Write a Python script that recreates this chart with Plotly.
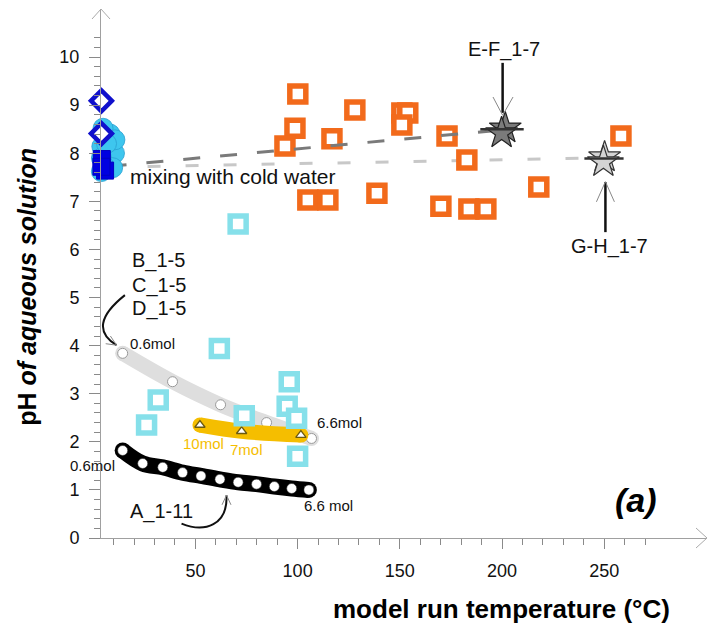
import plotly.graph_objects as go

FONT = "Liberation Sans, Arial, sans-serif"

# ---------------- data ----------------
orange_x = [100.1, 98.7, 93.8, 116.8, 128.0, 151.0, 153.9, 151.0, 173.1, 182.8,
            138.8, 170.1, 183.8, 192.1, 218.0, 258.2, 105.0, 114.8]
orange_y = [9.23, 8.52, 8.15, 8.30, 8.90, 8.84, 8.84, 8.59, 8.36, 7.86,
            7.17, 6.90, 6.84, 6.84, 7.30, 8.36, 7.03, 7.03]

cyan_sq_x = [70.9, 61.7, 95.9, 31.8, 26.1, 73.9, 94.9, 99.5, 100.0]
cyan_sq_y = [6.53, 3.94, 3.25, 2.87, 2.35, 2.54, 2.74, 2.49, 1.70]

cluster_x = [4.0, 8.2, 4.2, 10.4, 4.0, 8.2, 10.6, 4.8, 6.5, 9.5, 5.0]
cluster_y = [7.62, 7.80, 8.14, 8.00, 7.90, 8.40, 8.28, 8.52, 8.20, 7.70, 7.75]

blue_dia_x = [4.0, 4.0]
blue_dia_y = [9.09, 8.41]

blue_fill_x = [4.2, 5.8, 4.0]
blue_fill_y = [7.88, 7.64, 7.72]

ef_x = [201.6, 199.8]
ef_y = [8.52, 8.42]
ef_bar_x = [200.0]
ef_bar_y = [8.50]

gh_x = [250.2, 249.6]
gh_y = [7.92, 7.82]
gh_bar_x = [249.9]
gh_bar_y = [7.89]

mix_dark_x = [8.0, 196.0]
mix_dark_y = [7.73, 8.47]
mix_light_x = [8.0, 244.0]
mix_light_y = [7.71, 7.90]

bd_x = [14.4, 38.8, 62.3, 84.8, 106.8]
bd_y = [3.84, 3.25, 2.77, 2.40, 2.07]

a_x = [14.4, 24.2, 34.0, 43.7, 52.7, 62.0, 70.9, 79.9, 88.6, 97.1, 105.5]
a_y = [1.82, 1.55, 1.47, 1.36, 1.29, 1.22, 1.16, 1.12, 1.07, 1.03, 1.00]

yel_x = [52.2, 72.6, 101.6]
yel_y = [2.35, 2.22, 2.14]

x_ticks = [50, 100, 150, 200, 250]
x_minor = [v for v in range(10, 280, 10) if v % 50 != 0]
y_ticks = list(range(0, 11))
y_minor = [round(i * 0.2, 1) for i in range(1, 53) if i % 5 != 0]

ORANGE = "#F26A1B"
CYAN_SQ = "#86E0EA"
CYAN_C = "#3EC6EE"
BLUE = "#1010CC"
GOLD = "#F5BE00"

fig = go.Figure()


def band(x, y, color, width):
    fig.add_trace(go.Scatter(x=x, y=y, mode="lines",
                             line=dict(color=color, width=width, shape="spline", smoothing=1),
                             hoverinfo="skip", cliponaxis=False))
    fig.add_trace(go.Scatter(x=[x[0], x[-1]], y=[y[0], y[-1]], mode="markers",
                             marker=dict(symbol="circle", size=width, color=color, line=dict(width=0)),
                             hoverinfo="skip", cliponaxis=False))


# gray model band (B-D)
band(bd_x, bd_y, "#DEDEDE", 15)
fig.add_trace(go.Scatter(x=bd_x, y=bd_y, mode="markers",
                         marker=dict(symbol="circle", size=10, color="white",
                                     line=dict(color="#9A9A9A", width=1)), cliponaxis=False))
# yellow band
band(yel_x, yel_y, GOLD, 15)
fig.add_trace(go.Scatter(x=yel_x, y=yel_y, mode="markers",
                         marker=dict(symbol="triangle-up", size=9, color="white",
                                     line=dict(color="#6B5A10", width=1.3)), cliponaxis=False))
# black band (A)
band(a_x, a_y, "#000000", 16)
fig.add_trace(go.Scatter(x=a_x, y=a_y, mode="markers",
                         marker=dict(symbol="circle", size=10, color="white",
                                     line=dict(color="#222", width=0.5)), cliponaxis=False))

# light dashed mixing line (under squares)
fig.add_trace(go.Scatter(x=mix_light_x, y=mix_light_y, mode="lines",
                         line=dict(color="#C8C8C8", width=3, dash="13px,25px"), cliponaxis=False))

# cyan squares
fig.add_trace(go.Scatter(x=cyan_sq_x, y=cyan_sq_y, mode="markers",
                         marker=dict(symbol="square", size=16, color="white",
                                     line=dict(color=CYAN_SQ, width=5.5)), cliponaxis=False))
# orange squares
fig.add_trace(go.Scatter(x=orange_x, y=orange_y, mode="markers",
                         marker=dict(symbol="square", size=16, color="white",
                                     line=dict(color=ORANGE, width=5.5)), cliponaxis=False))

# dark dashed mixing line (over squares)
fig.add_trace(go.Scatter(x=mix_dark_x, y=mix_dark_y, mode="lines",
                         line=dict(color="#7A7A7A", width=3, dash="17px,20px"), cliponaxis=False))

# stars
fig.add_trace(go.Scatter(x=ef_x, y=ef_y, mode="markers",
                         marker=dict(symbol="star", size=24, color="#7B7B7B",
                                     line=dict(color="#222", width=1.2)), cliponaxis=False))
fig.add_trace(go.Scatter(x=ef_bar_x, y=ef_bar_y, mode="markers",
                         marker=dict(symbol="line-ew", size=31, line=dict(color="#333", width=2.5)),
                         cliponaxis=False))
fig.add_trace(go.Scatter(x=gh_x, y=gh_y, mode="markers",
                         marker=dict(symbol="star", size=24, color="#D4D4D4",
                                     line=dict(color="#333", width=1.2)), cliponaxis=False))
fig.add_trace(go.Scatter(x=gh_bar_x, y=gh_bar_y, mode="markers",
                         marker=dict(symbol="line-ew", size=28, line=dict(color="#333", width=2.5)),
                         cliponaxis=False))

# cluster at left
fig.add_trace(go.Scatter(x=cluster_x, y=cluster_y, mode="markers",
                         marker=dict(symbol="circle", size=20, color=CYAN_C,
                                     line=dict(color="#2A9FD0", width=0.8)), cliponaxis=False))
fig.add_trace(go.Scatter(x=blue_fill_x, y=blue_fill_y, mode="markers",
                         marker=dict(symbol="square", size=17, color="#0000E0",
                                     line=dict(color="#0000C0", width=1)), cliponaxis=False))
fig.add_trace(go.Scatter(x=blue_dia_x, y=blue_dia_y, mode="markers",
                         marker=dict(symbol="diamond", size=16, color="white",
                                     line=dict(color=BLUE, width=4.5)), cliponaxis=False))

# ---------------- annotations ----------------
def txt(text, x, y, size, color="#111", xanchor="left", **kw):
    fig.add_annotation(x=x, y=y, xref="x", yref="y", text=text, showarrow=False,
                       xanchor=xanchor, yanchor="middle",
                       font=dict(family=FONT, size=size, color=color), **kw)


txt("mixing with cold water", 17.1, 7.51, 21)
txt("B_1-5", 17.9, 5.78, 20)
txt("C_1-5", 17.9, 5.26, 20)
txt("D_1-5", 17.9, 4.78, 20)
txt("0.6mol", 17.0, 4.05, 15)
txt("6.6mol", 108.5, 2.41, 15)
txt("0.6mol", 11.4, 1.50, 15, xanchor="right")
txt("6.6 mol", 102.0, 0.67, 15)
txt("10mol", 42.8, 1.97, 15, color=GOLD)
txt("7mol", 66.0, 1.84, 15, color=GOLD)
txt("A_1-11", 17.1, 0.55, 20)
txt("E-F_1-7", 201.1, 10.15, 20, xanchor="center")
txt("G-H_1-7", 252.8, 6.06, 20, xanchor="center")
txt("<b><i>(a)</i></b>", 265.4, 0.79, 34, color="#000", xanchor="center")

# axis titles
fig.add_annotation(x=0.661, y=-0.134, xref="paper", yref="paper",
                   text="<b>model run temperature (°C)</b>", showarrow=False,
                   xanchor="center", yanchor="middle",
                   font=dict(family=FONT, size=26, color="#000"))
fig.add_annotation(x=-0.122, y=0.475, xref="paper", yref="paper",
                   text="<b>pH <i>of aqueous solution</i></b>", showarrow=False,
                   textangle=-90, xanchor="center", yanchor="middle",
                   font=dict(family=FONT, size=25, color="#000"))

# ---------------- shapes (pointer arrows, axis arrows) ----------------
shapes = []
# E-F pointer
shapes.append(dict(type="line", xref="x", yref="y", x0=200.3, y0=9.88, x1=200.3, y1=8.84,
                   line=dict(color="#111", width=2.5)))
shapes.append(dict(type="path", xref="x", yref="y",
                   path="M 195.6,9.17 L 200.3,8.79 L 205.4,9.17",
                   line=dict(color="#888", width=1)))
# G-H pointer
shapes.append(dict(type="line", xref="x", yref="y", x0=250.6, y0=6.36, x1=250.6, y1=7.40,
                   line=dict(color="#111", width=2.5)))
shapes.append(dict(type="path", xref="x", yref="y",
                   path="M 246.2,6.99 L 250.6,7.41 L 255.0,6.99",
                   line=dict(color="#888", width=1)))
# B-D curved pointer
shapes.append(dict(type="path", xref="x", yref="y",
                   path="M 15.5,5.05 Q -3.7,4.40 11.4,4.01",
                   line=dict(color="#111", width=2)))
shapes.append(dict(type="path", xref="x", yref="y",
                   path="M 8.4,4.20 L 11.4,4.01 L 6.1,4.04",
                   line=dict(color="#888", width=1)))
# A curved pointer
shapes.append(dict(type="path", xref="x", yref="y",
                   path="M 43.2,0.30 C 54.7,0.10 65.9,0.27 65.2,0.89",
                   line=dict(color="#111", width=2)))
shapes.append(dict(type="path", xref="x", yref="y",
                   path="M 63.0,0.69 L 65.2,0.89 L 67.4,0.69",
                   line=dict(color="#888", width=1)))
# axis arrowheads (open V)
shapes.append(dict(type="path", xref="paper", yref="paper", xsizemode="pixel", ysizemode="pixel",
                   xanchor=1, yanchor=0,
                   path="M -11,10 L 0,0 L -11,-10", line=dict(color="#AAAAAA", width=1)))
shapes.append(dict(type="path", xref="paper", yref="paper", xsizemode="pixel", ysizemode="pixel",
                   xanchor=0, yanchor=1,
                   path="M -9,-10 L 0,0 L 9,-10", line=dict(color="#AAAAAA", width=1)))

fig.update_layout(
    width=707, height=630,
    margin=dict(l=101, r=0, t=9, b=92),
    paper_bgcolor="white", plot_bgcolor="white",
    showlegend=False,
    shapes=shapes,
    xaxis=dict(range=[3.8, 300.3], showline=True, linecolor="#A0A0A0", linewidth=1,
               showgrid=False, zeroline=False,
               ticks="outside", ticklen=10, tickcolor="#8A8A8A", tickwidth=1,
               ticklabelstandoff=6,
               tickmode="array", tickvals=x_ticks, ticktext=[str(v) for v in x_ticks],
               tickfont=dict(family=FONT, size=18, color="#111"),
               minor=dict(tickmode="array", tickvals=x_minor, ticks="outside",
                          ticklen=6, tickcolor="#8A8A8A", tickwidth=1, showgrid=False)),
    yaxis=dict(range=[0, 11], showline=True, linecolor="#A0A0A0", linewidth=1,
               showgrid=False, zeroline=False,
               ticks="outside", ticklen=11, tickcolor="#8A8A8A", tickwidth=1,
               ticklabelstandoff=6,
               tickmode="array", tickvals=y_ticks, ticktext=[str(v) for v in y_ticks],
               tickfont=dict(family=FONT, size=18, color="#111"),
               minor=dict(tickmode="array", tickvals=y_minor, ticks="outside",
                          ticklen=6, tickcolor="#8A8A8A", tickwidth=1, showgrid=False)),
)

fig.write_html("out.html")
